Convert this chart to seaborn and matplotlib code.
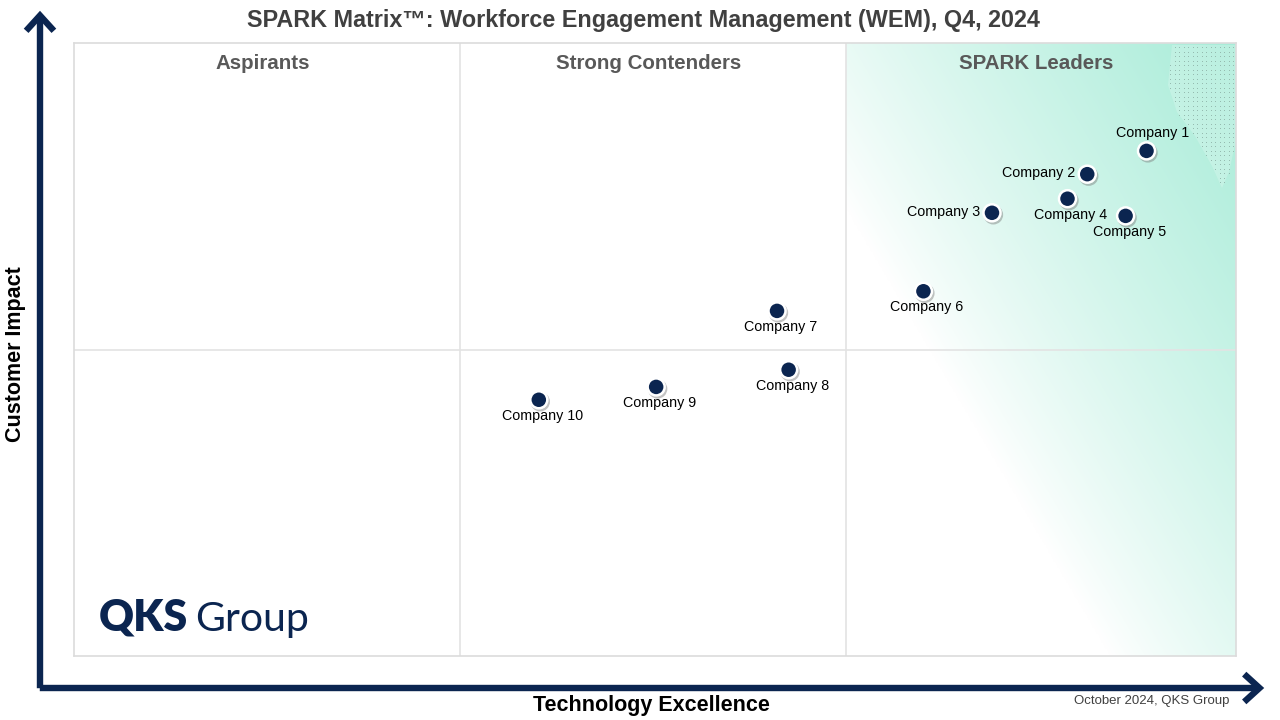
import numpy as np
import pandas as pd
import seaborn as sns
import matplotlib.pyplot as plt
import matplotlib.patheffects as pe
from matplotlib.patches import FancyArrowPatch, Polygon

# data (0-100 scale on both axes)
companies = ['Company 1', 'Company 2', 'Company 3', 'Company 4', 'Company 5',
             'Company 6', 'Company 7', 'Company 8', 'Company 9', 'Company 10']
tech_excellence = [92.3, 87.2, 79.0, 85.5, 90.5, 73.1, 60.5, 61.5, 50.1, 40.0]
customer_impact = [82.4, 78.6, 72.3, 74.6, 71.8, 59.5, 56.3, 46.7, 43.9, 41.8]
label_side = ['top', 'left', 'left', 'bottom', 'bottom',
              'bottom', 'bottom', 'bottom', 'bottom', 'bottom']
quadrants = ['Aspirants', 'Strong Contenders', 'SPARK Leaders']
col_edges = [0, 33.2, 66.45, 100]

NAVY = '#0b2550'
TEAL = np.array([168, 236, 216]) / 255.0

df = pd.DataFrame({'Company': companies, 'Tech': tech_excellence, 'Impact': customer_impact})

sns.set_theme(style='white')
plt.rcParams['font.family'] = ['Liberation Sans', 'DejaVu Sans']

fig = plt.figure(figsize=(12.8, 7.2), dpi=100)
ax = fig.add_axes([74 / 1280, 64 / 720, 1162 / 1280, 613 / 720])
ax.set_xlim(0, 100)
ax.set_ylim(0, 100)
ax.set_xticks([])
ax.set_yticks([])
for sp in ax.spines.values():
    sp.set_color('#dcdcdc')
    sp.set_linewidth(1.2)

# leaders gradient (white lower-left -> teal upper-right)
gx = np.linspace(col_edges[2], 100, 300)
gy = np.linspace(0, 100, 400)
X, Y = np.meshgrid(gx, gy)
s = 11.62 * X + 3.62 * Y - 313
t = np.clip((s - 724) / 487, 0, 1) ** 0.85
img = np.ones(X.shape + (3,)) * (1 - t[..., None]) + TEAL * t[..., None]
ax.imshow(img, extent=[col_edges[2], 100, 0, 100], origin='lower', aspect='auto', zorder=0)

# decorative dotted leaf in the top-right corner
leaf_px = [(1172, 45), (1236, 45), (1236, 140), (1229, 172), (1222, 188),
           (1212, 166), (1195, 136), (1177, 112), (1168, 85)]
leaf = [((px - 74) / 11.62, (656 - py) / 6.13) for px, py in leaf_px]
ax.add_patch(Polygon(leaf, closed=True, facecolor='white', alpha=0.2,
                     edgecolor='none', zorder=1))
poly = Polygon(leaf, closed=True)
dx, dy = np.meshgrid(np.arange(1170, 1236, 4.5), np.arange(47, 188, 4.5))
dpts = np.column_stack([(dx.ravel() - 74) / 11.62, (656 - dy.ravel()) / 6.13])
dpts = dpts[poly.get_path().contains_points(dpts)]
ax.scatter(dpts[:, 0], dpts[:, 1], s=0.5, color='#93b8ad', linewidths=0, zorder=1)

# quadrant dividers
for xv in col_edges[1:3]:
    ax.axvline(xv, color='#e3e3e3', lw=1.2, zorder=1)
ax.axhline(50, color='#e3e3e3', lw=1.2, zorder=1)

for i, q in enumerate(quadrants):
    ax.text((col_edges[i] + col_edges[i + 1]) / 2 - 0.4, 96.7, q, ha='center', va='center',
            fontsize=14.8, fontweight='bold', color='#595959', zorder=3)

# points with a soft shadow
sns.scatterplot(data=df, x='Tech', y='Impact', ax=ax, s=150, color=NAVY,
                edgecolor='white', linewidth=1.8, zorder=4, legend=False)
ax.collections[-1].set_path_effects([
    pe.SimpleLineShadow(offset=(1.0, -1.4), shadow_color='#7a7a7a', alpha=0.45),
    pe.Normal()])

offsets = {'top': (0.5, 2.9, 'center'), 'left': (-1.0, 0.2, 'right'),
           'bottom': (0.3, -2.6, 'center')}
for name, xv, yv, side in zip(companies, tech_excellence, customer_impact, label_side):
    ox, oy, ha = offsets[side]
    ax.text(xv + ox, yv + oy, name, ha=ha, va='center', fontsize=10.3,
            color='black', zorder=5)

# title
fig.text(643 / 1280, 1 - 21 / 720, 'SPARK Matrix\u2122: Workforce Engagement Management (WEM), Q4, 2024',
         ha='center', va='center', fontsize=16.8, fontweight='bold', color='#404040')

# axis arrows
arrow_kw = dict(arrowstyle='->,head_length=0.55,head_width=0.5', color=NAVY,
                lw=4.6, mutation_scale=20, joinstyle='miter', capstyle='butt')
fig.add_artist(FancyArrowPatch((40 / 1280, 29 / 720), (40 / 1280, 712 / 720),
                               transform=fig.transFigure, **arrow_kw))
fig.add_artist(FancyArrowPatch((37 / 1280, 32 / 720), (1267 / 1280, 32 / 720),
                               transform=fig.transFigure, **arrow_kw))

fig.text(651 / 1280, 1 - 705 / 720, 'Technology Excellence', ha='center', va='center',
         fontsize=15.5, fontweight='bold', color='black')
fig.text(16 / 1280, 1 - 354 / 720, 'Customer Impact', ha='center', va='center',
         rotation=90, fontsize=15.5, fontweight='bold', color='black')
fig.text(1229 / 1280, 1 - 701 / 720, 'October 2024, QKS Group', ha='right', va='center',
         fontsize=9.5, color='#404040')

# logo
fig.text(99 / 1280, 1 - 631 / 720, 'QKS', ha='left', va='baseline', fontsize=31,
         fontweight='heavy', family=['Lato', 'DejaVu Sans'], color=NAVY)
fig.text(195 / 1280, 1 - 631 / 720, 'Group', ha='left', va='baseline', fontsize=29.5,
         fontweight='normal', family=['Lato', 'DejaVu Sans'], color=NAVY)

fig.savefig('out.png', dpi=100)
